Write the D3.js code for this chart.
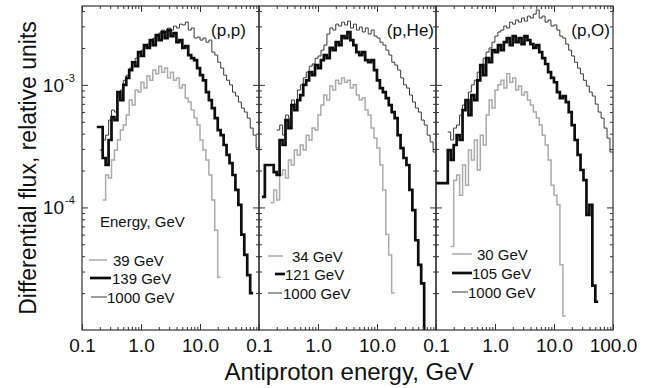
<!DOCTYPE html>
<html><head><meta charset="utf-8">
<script src="https://cdn.jsdelivr.net/npm/d3@7"></script>
<style>
body{margin:0;background:#fff}
text{font-family:"Liberation Sans",Arial,Helvetica,sans-serif;fill:#111}
</style>
</head><body>
<svg id="c" width="652" height="388"></svg>
<script>
// ---------------- data ----------------
const panelNames = ["(p,p)", "(p,He)", "(p,O)"];
const legendTitle = "Energy, GeV";
const legendLabels = [
  ["39 GeV", "139 GeV", "1000 GeV"],
  ["34 GeV", "121 GeV", "1000 GeV"],
  ["30 GeV", "105 GeV", "1000 GeV"]
];
const xTickValues = [0.1, 1, 10, 100];
const xTickLabels = [
  ["0.1", "1.0", "10.0"],
  ["0.1", "1.0", "10.0"],
  ["0.1", "1.0", "10.0", "100.0"]
];
const yTickValues = [1e-4, 1e-3];
const yTickExponents = ["-4", "-3"];
const xDomain = [0.1, 100];
const yDomain = [1e-5, 4.4e-3];
const BINS_PER_DECADE = 20;      // log-spaced histogram bins
const FLUX_UNIT = 1e-4;          // values below are in units of 1e-4

// (p,p)
const ppLowStart = 0.224;   // 39 GeV
const ppLow = [1.15,1.84,1.74,2.44,2.94,3.55,4.28,4.70,5.67,7.52,6.84,9.07,8.73,10.5,9.42,11.8,10.9,13.2,12.3,14.2,12.7,13.7,11.4,12.7,10.9,11.4,9.42,10.0,7.80,7.24,6.23,5.36,4.70,3.55,2.94,2.44,1.84,1.15,0.65,0.27];
const ppMidStart = 0.178;   // 139 GeV
const ppMid = [4.53,4.53,2.53,2.22,3.55,5.46,5.16,8.73,7.52,10.0,11.4,13.2,15.3,14.2,18.5,17.2,21.1,20.0,23.2,21.1,25.5,23.2,27.0,24.1,28.0,25.0,26.5,22.3,23.2,20.0,20.7,17.5,16.5,15.9,13.7,12.0,10.9,8.73,7.52,6.47,5.36,4.28,3.89,3.23,2.68,2.30,1.84,1.39,1.05,0.60,0.41,0.28,0.20];
const ppHighStart = 0.200;  // 1000 GeV
const ppHigh = [2.94,3.55,3.89,5.16,6.23,6.00,8.26,9.07,10.9,12.0,13.7,15.3,16.5,18.5,19.2,21.1,21.5,23.2,24.1,25.0,26.5,28.0,27.0,29.1,28.0,30.2,29.1,31.3,30.8,32.5,28.0,29.1,24.1,24.5,23.2,24.1,22.3,23.2,18.5,17.5,15.3,13.7,12.0,10.9,10.0,8.73,8.11,7.24,6.47,6.00,5.36,4.44,3.89,3.05];

// (p,He)
const pHeLowStart = 0.158;  // 34 GeV
const pHeLow = [1.09,1.39,1.15,1.84,2.02,1.74,2.44,2.22,2.94,2.68,3.23,2.94,3.89,3.55,4.44,4.28,5.67,6.84,8.26,7.52,9.78,9.07,10.9,10.2,11.4,10.5,10.9,9.42,10.0,8.26,7.52,7.80,6.23,5.67,4.44,3.68,3.05,2.22,1.39,0.60,0.41,0.20];
const pHeMidStart = 0.112;  // 121 GeV
const pHeMid = [1.22,2.22,2.22,2.22,1.94,1.84,3.55,3.23,5.16,4.44,6.84,6.23,7.52,8.26,10.0,10.9,12.7,12.0,14.5,13.7,15.9,17.5,16.5,20.0,19.2,22.3,21.1,25.0,24.1,27.0,23.2,21.1,18.5,17.5,18.5,15.9,15.3,15.9,13.2,10.9,9.42,8.73,7.80,6.84,6.00,5.36,3.89,3.05,2.53,2.22,1.39,0.95,0.54,0.34,0.24,0.05];
const pHeHighStart = 0.200; // 1000 GeV
const pHeHigh = [4.28,4.70,3.89,5.67,5.36,7.52,6.97,9.07,10.0,11.4,12.7,14.2,14.8,16.5,17.2,19.2,21.1,26.0,29.1,28.0,31.3,30.2,32.5,30.8,33.1,29.1,31.3,28.0,29.6,27.0,29.1,26.0,28.0,25.0,24.1,22.3,21.1,19.2,17.5,15.3,14.5,13.2,11.4,10.0,9.42,8.26,7.24,6.47,6.00,5.16,4.70,3.89,3.42,2.83];

// (p,O)
const pOLowStart = 0.178;   // 30 GeV
const pOLow = [0.48,1.67,1.84,1.26,2.22,1.52,2.94,2.44,3.55,2.02,3.89,3.23,5.67,7.52,6.47,9.07,10.0,10.9,9.42,12.3,10.5,11.4,9.07,9.78,8.26,8.73,7.52,6.84,6.00,5.36,4.70,3.89,3.23,2.44,1.52,1.26,1.05,0.34,0.13];
const pOMidStart = 0.100;   // 105 GeV
const pOMid = [1.58,1.58,1.58,1.58,2.94,2.44,3.23,3.89,3.55,6.23,7.52,5.67,8.26,7.52,10.9,14.5,12.0,16.5,15.3,19.2,18.5,21.1,19.2,22.3,24.1,21.1,25.0,22.3,24.1,21.5,25.0,23.2,21.5,20.0,21.1,18.5,16.5,14.8,12.7,11.4,10.5,8.73,7.80,8.11,7.24,6.00,4.70,3.55,2.68,2.02,1.67,0.87,1.05,0.23,0.17];
const pOHighStart = 0.158;  // 1000 GeV
const pOHigh = [4.12,3.55,4.44,4.70,5.67,6.84,7.52,8.73,10.0,10.9,12.7,14.5,16.5,18.5,20.0,22.3,25.0,27.0,28.0,30.2,29.1,32.5,31.3,33.8,32.5,35.1,33.1,36.4,35.1,37.8,40.8,35.1,36.4,32.5,33.8,30.2,30.8,28.0,25.0,24.1,21.5,19.2,17.2,15.3,13.7,12.3,10.9,9.78,8.73,8.11,6.97,6.00,5.36,4.44,3.68,2.83];

// ---------------- layout ----------------
const panelLeft = [82, 259, 436];
const panelWidth = 177;
const plotTop = 6, plotBottom = 330;
const styles = {
  low:  {stroke: "#ababab", width: 1.5},
  mid:  {stroke: "#0d0d0d", width: 2.7},
  high: {stroke: "#3a3a3a", width: 1.0}
};
const panels = [
  {series: [["low", ppLowStart, ppLow], ["high", ppHighStart, ppHigh], ["mid", ppMidStart, ppMid]]},
  {series: [["low", pHeLowStart, pHeLow], ["high", pHeHighStart, pHeHigh], ["mid", pHeMidStart, pHeMid]]},
  {series: [["low", pOLowStart, pOLow], ["high", pOHighStart, pOHigh], ["mid", pOMidStart, pOMid]]}
];
// legend layout (offsets from panel left): [lineStart, lineEnd, textX, yCenter]
const legendLayout = [
  [[7,25,31,260],[8,29,30,278],[9,25,25,297]],
  [[9,24,33,256],[16,26,26,274],[9,23,24,293]],
  [[16,36,41,254],[16,36,36,273],[16,32,32,292]]
];
const legendStyleOrder = ["low", "mid", "high"];
const panelLabelPos = [[246, 36], [434, 36], [610, 36]];

const svg = d3.select("#c");
const y = d3.scaleLog().domain(yDomain).range([plotBottom, plotTop]);

const minorX = [];
[0.1, 1, 10].forEach(b => { for (let m = 2; m <= 9; m++) minorX.push(b * m); });
const minorY = [];
[1e-5, 1e-4, 1e-3].forEach(b => { for (let m = 2; m <= 9; m++) if (b * m < yDomain[1]) minorY.push(b * m); });

const defs = svg.append("defs");

panels.forEach((p, pi) => {
  const x0 = panelLeft[pi];
  const x = d3.scaleLog().domain(xDomain).range([x0, x0 + panelWidth]);
  const g = svg.append("g");

  defs.append("clipPath").attr("id", "clip" + pi)
    .append("rect").attr("x", x0).attr("y", plotTop).attr("width", panelWidth).attr("height", plotBottom - plotTop);

  // histogram step lines
  const line = d3.line().x(d => x(d[0])).y(d => y(d[1])).curve(d3.curveStepAfter);
  p.series.forEach(([st, start, vals]) => {
    const pts = vals.map((v, i) => [start * Math.pow(10, i / BINS_PER_DECADE), v * FLUX_UNIT]);
    pts.push([start * Math.pow(10, vals.length / BINS_PER_DECADE), vals[vals.length - 1] * FLUX_UNIT]);
    g.append("path").attr("d", line(pts))
      .attr("fill", "none").attr("stroke", styles[st].stroke)
      .attr("stroke-width", styles[st].width)
      .attr("stroke-linejoin", "miter")
      .attr("clip-path", "url(#clip" + pi + ")");
  });

  // axes
  const labels = xTickLabels[pi];
  const axes = [
    [d3.axisBottom(x).tickValues(xTickValues).tickSize(-6).tickPadding(9).tickFormat((d, i) => labels[i] || ""), 0, plotBottom],
    [d3.axisBottom(x).tickValues(minorX).tickSize(-3).tickFormat(""), 0, plotBottom],
    [d3.axisTop(x).tickValues(xTickValues).tickSize(-6).tickFormat(""), 0, plotTop],
    [d3.axisTop(x).tickValues(minorX).tickSize(-3).tickFormat(""), 0, plotTop],
    [d3.axisLeft(y).tickValues(yTickValues).tickSize(-6).tickFormat(""), x0, 0],
    [d3.axisLeft(y).tickValues(minorY).tickSize(-3).tickFormat(""), x0, 0],
    [d3.axisRight(y).tickValues(yTickValues).tickSize(-6).tickFormat(""), x0 + panelWidth, 0],
    [d3.axisRight(y).tickValues(minorY).tickSize(-3).tickFormat(""), x0 + panelWidth, 0]
  ];
  axes.forEach(([ax, tx, ty]) => {
    const a = g.append("g").attr("transform", `translate(${tx},${ty})`).call(ax);
    a.select(".domain").remove();
    a.selectAll("line").attr("stroke", "#333").attr("stroke-width", 1);
    a.selectAll("text").attr("font-size", 19).attr("font-family", '"Liberation Sans",Arial,sans-serif').attr("fill", "#111");
  });

  // frame
  g.append("rect").attr("x", x0).attr("y", plotTop).attr("width", panelWidth).attr("height", plotBottom - plotTop)
    .attr("fill", "none").attr("stroke", "#333").attr("stroke-width", 1.2);

  // panel label
  g.append("text").attr("x", panelLabelPos[pi][0]).attr("y", panelLabelPos[pi][1])
    .attr("text-anchor", "end").attr("font-size", 17).text(panelNames[pi]);

  // legend
  if (pi === 0) {
    g.append("text").attr("x", x0 + 18).attr("y", 227).attr("font-size", 15).text(legendTitle);
  }
  legendLabels[pi].forEach((lab, li) => {
    const [ls, le, tx, yc] = legendLayout[pi][li];
    const st = styles[legendStyleOrder[li]];
    g.append("line").attr("x1", x0 + ls).attr("x2", x0 + le).attr("y1", yc).attr("y2", yc)
      .attr("stroke", st.stroke).attr("stroke-width", st.width);
    g.append("text").attr("x", x0 + tx).attr("y", yc + 5.5).attr("font-size", 15).text(lab);
  });
});

// y tick labels (panel 1 only)
const yl = svg.append("g");
yTickValues.forEach((v, i) => {
  yl.append("text").attr("x", 64).attr("y", y(v) + 7).attr("text-anchor", "end").attr("font-size", 19).text("10");
  yl.append("text").attr("x", 65).attr("y", y(v) - 3).attr("font-size", 11).text(yTickExponents[i]);
});

// axis titles
svg.append("text").attr("x", 349).attr("y", 380).attr("text-anchor", "middle").attr("font-size", 24)
  .text("Antiproton energy, GeV");
svg.append("text").attr("transform", "translate(36,168) rotate(-90)").attr("text-anchor", "middle")
  .attr("font-size", 23).text("Differential flux, relative units");
</script>
</body></html>
